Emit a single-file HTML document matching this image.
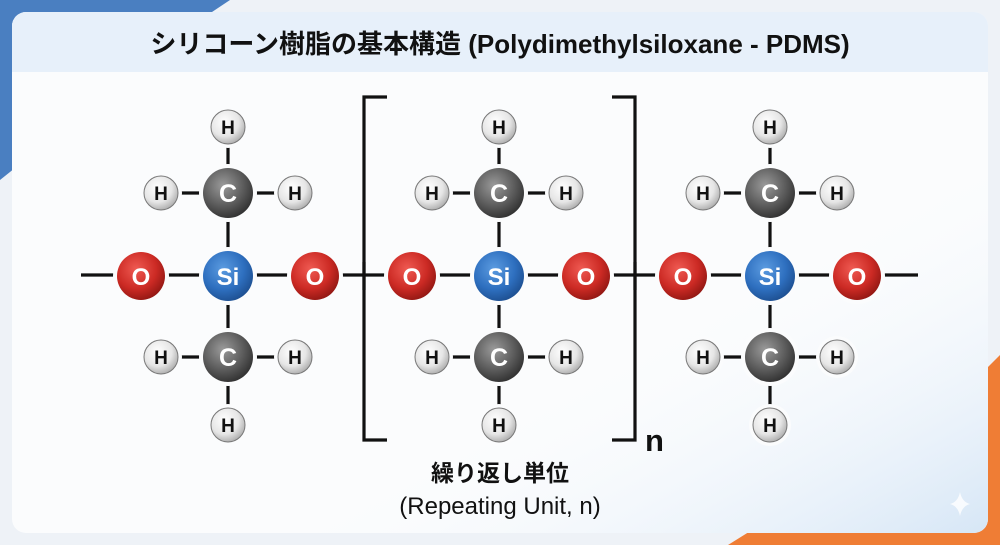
<!DOCTYPE html>
<html><head><meta charset="utf-8"><style>
html,body{margin:0;padding:0;width:1000px;height:545px;overflow:hidden;background:#eef2f7}
svg{display:block}
</style></head><body>
<svg width="1000" height="545" viewBox="0 0 1000 545" xmlns="http://www.w3.org/2000/svg">
<defs>
<radialGradient id="gH" cx="40%" cy="35%" r="70%"><stop offset="0" stop-color="#ffffff"/><stop offset="0.6" stop-color="#e6e6e6"/><stop offset="1" stop-color="#a8a8a8"/></radialGradient>
<radialGradient id="gC" cx="40%" cy="35%" r="70%"><stop offset="0" stop-color="#9a9a9a"/><stop offset="0.6" stop-color="#5a5a5a"/><stop offset="1" stop-color="#2e2e2e"/></radialGradient>
<radialGradient id="gSi" cx="40%" cy="35%" r="70%"><stop offset="0" stop-color="#5b9be0"/><stop offset="0.6" stop-color="#2e6fbf"/><stop offset="1" stop-color="#1c4d8e"/></radialGradient>
<radialGradient id="gO" cx="40%" cy="35%" r="70%"><stop offset="0" stop-color="#ef5a52"/><stop offset="0.6" stop-color="#cc2a24"/><stop offset="1" stop-color="#8e1612"/></radialGradient>
<linearGradient id="bgr" x1="0" y1="0" x2="1" y2="1"><stop offset="0.6" stop-color="#ffffff" stop-opacity="0"/><stop offset="1" stop-color="#d6e6f6"/></linearGradient>
</defs>
<rect width="1000" height="545" fill="#eef2f7"/>
<polygon points="0,0 230,0 200,20 0,180" fill="#4a7fc1"/>
<polygon points="1000,355 1000,545 728,545 760,525 985,370" fill="#ef7d35"/>
<rect x="12" y="12" width="976" height="521" rx="14" fill="#fbfcfd"/>
<rect x="12" y="12" width="976" height="521" rx="14" fill="url(#bgr)"/>
<path d="M12,72 V26 a14,14 0 0 1 14,-14 H974 a14,14 0 0 1 14,14 V72 Z" fill="#e7f0fa"/>
<text x="500" y="53" text-anchor="middle" font-family="Liberation Sans, Noto Sans CJK JP, sans-serif" font-size="26" font-weight="bold" fill="#111">シリコーン樹脂の基本構造 (Polydimethylsiloxane - PDMS)</text>
<g stroke="#111" stroke-width="3.2" fill="none">
<line x1="81" y1="275" x2="918" y2="275"/>
<polyline points="387,97 364,97 364,440 387,440"/>
<polyline points="612,97 635,97 635,440 612,440"/>
</g>
<g font-family="Liberation Sans, sans-serif" font-weight="bold" text-anchor="middle">
<g id="u1" transform="translate(228,0)">
<g stroke="#111" stroke-width="3.2"><line x1="0" y1="127" x2="0" y2="357"/><line x1="-67" y1="193" x2="67" y2="193"/><line x1="-67" y1="357" x2="67" y2="357"/><line x1="0" y1="357" x2="0" y2="425"/></g>
<g fill="#fbfcfd">
<circle cx="0" cy="127" r="21"/><circle cx="-67" cy="193" r="21"/><circle cx="67" cy="193" r="21"/><circle cx="0" cy="193" r="29"/><circle cx="0" cy="276" r="29"/><circle cx="-87" cy="276" r="28"/><circle cx="87" cy="276" r="28"/><circle cx="0" cy="357" r="29"/><circle cx="-67" cy="357" r="21"/><circle cx="67" cy="357" r="21"/><circle cx="0" cy="425" r="21"/>
</g>
<circle cx="0" cy="127" r="17" fill="url(#gH)" stroke="#777" stroke-width="1"/><text x="0" y="134" font-size="19" fill="#111">H</text>
<circle cx="-67" cy="193" r="17" fill="url(#gH)" stroke="#777" stroke-width="1"/><text x="-67" y="200" font-size="19" fill="#111">H</text>
<circle cx="67" cy="193" r="17" fill="url(#gH)" stroke="#777" stroke-width="1"/><text x="67" y="200" font-size="19" fill="#111">H</text>
<circle cx="0" cy="193" r="25" fill="url(#gC)"/><text x="0" y="202" font-size="25" fill="#fff">C</text>
<circle cx="0" cy="276" r="25" fill="url(#gSi)"/><text x="0" y="285" font-size="24" fill="#fff">Si</text>
<circle cx="-87" cy="276" r="24" fill="url(#gO)"/><text x="-87" y="285" font-size="24" fill="#fff">O</text>
<circle cx="87" cy="276" r="24" fill="url(#gO)"/><text x="87" y="285" font-size="24" fill="#fff">O</text>
<circle cx="0" cy="357" r="25" fill="url(#gC)"/><text x="0" y="366" font-size="25" fill="#fff">C</text>
<circle cx="-67" cy="357" r="17" fill="url(#gH)" stroke="#777" stroke-width="1"/><text x="-67" y="364" font-size="19" fill="#111">H</text>
<circle cx="67" cy="357" r="17" fill="url(#gH)" stroke="#777" stroke-width="1"/><text x="67" y="364" font-size="19" fill="#111">H</text>
<circle cx="0" cy="425" r="17" fill="url(#gH)" stroke="#777" stroke-width="1"/><text x="0" y="432" font-size="19" fill="#111">H</text>
</g>
<use href="#u1" transform="translate(271,0)"/>
<use href="#u1" transform="translate(542,0)"/>
</g>
<g stroke="#111" stroke-width="3.2"><line x1="364" y1="262" x2="364" y2="290"/><line x1="635" y1="262" x2="635" y2="290"/></g>
<text x="645" y="451" font-family="Liberation Sans, sans-serif" font-weight="bold" font-size="31" fill="#111">n</text>
<text x="500" y="481" text-anchor="middle" font-family="Liberation Sans, Noto Sans CJK JP, sans-serif" font-weight="bold" font-size="23" fill="#111">繰り返し単位</text>
<text x="500" y="514" text-anchor="middle" font-family="Liberation Sans, sans-serif" font-size="24" fill="#111">(Repeating Unit, n)</text>
<path d="M960,492 q2,10 10,12 q-8,2 -10,12 q-2,-10 -10,-12 q8,-2 10,-12z" fill="#fff" opacity="0.8"/>
</svg>
</body></html>
